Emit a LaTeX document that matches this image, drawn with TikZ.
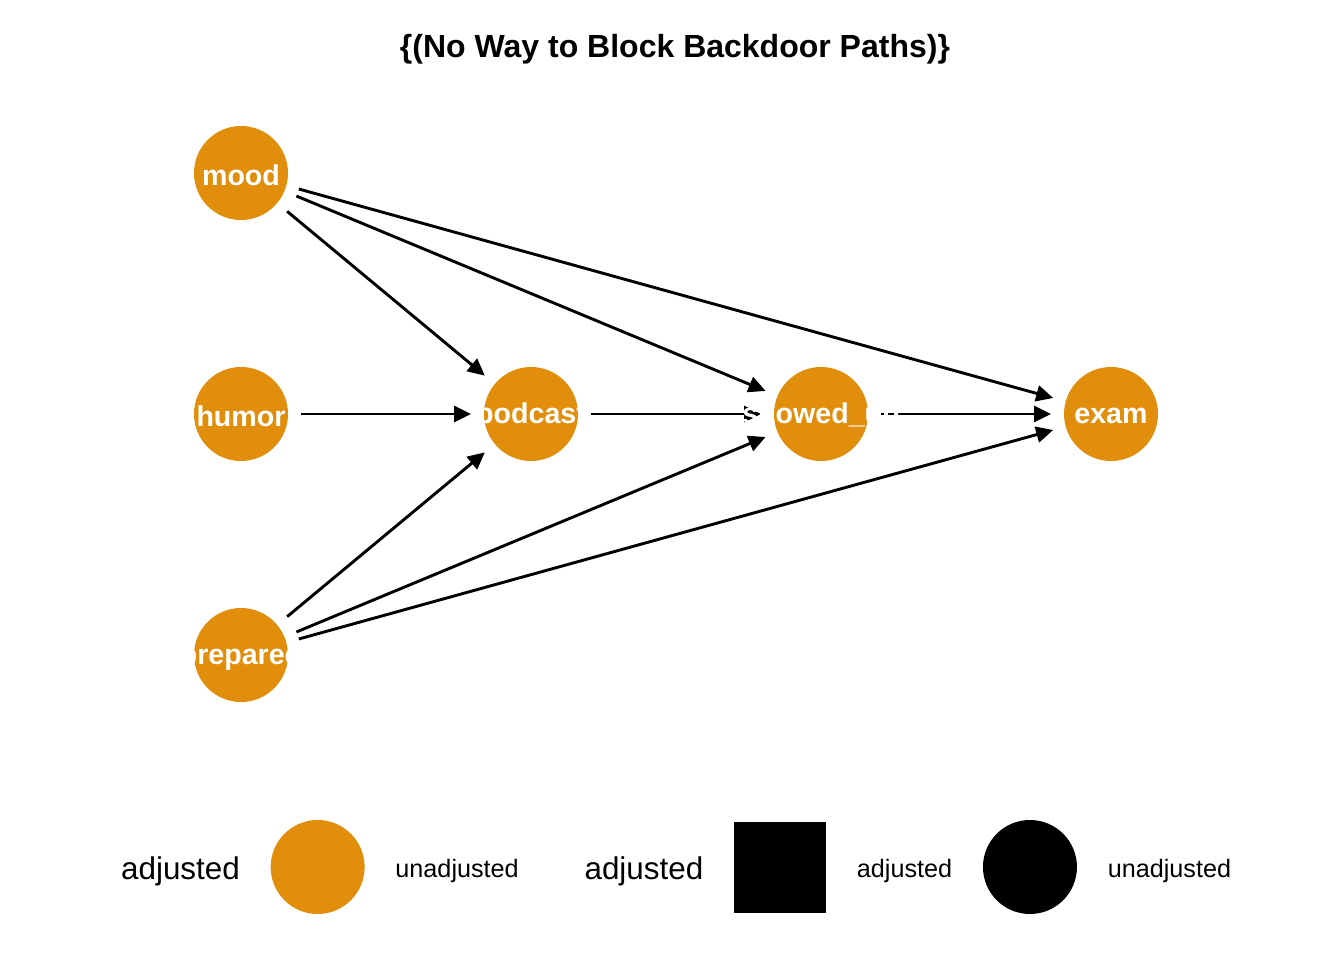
\documentclass[tikz,border=0pt]{standalone}
\usepackage{fontspec}
\setmainfont{Liberation Sans}
\usetikzlibrary{positioning, arrows.meta, backgrounds}
\definecolor{dagorange}{RGB}{224,142,11}

\begin{document}
\begin{tikzpicture}[x=0.5pt, y=0.5pt,
    var/.style={circle, fill=dagorange, minimum size=47pt, inner sep=0pt, outer sep=6.5pt},
    vlab/.style={text=white, inner sep=0pt, yshift=-1pt, font=\fontsize{14.3pt}{17pt}\selectfont\bfseries},
    edge/.style={-{Triangle[length=8.5pt, width=8pt]}, line width=1.45pt},
    legbig/.style={inner sep=0pt, font=\fontsize{15.7pt}{18pt}\selectfont},
    legsmall/.style={inner sep=0pt, font=\fontsize{12.6pt}{15pt}\selectfont},
    legkey/.style={inner sep=0pt, yshift=2pt}]
        \useasboundingbox (0,0) rectangle (1344,960);

        \node [font=\fontsize{16pt}{19pt}\selectfont\bfseries] (Title) at (675,911) {\{(No Way to Block Backdoor Paths)\}};

        \node [var] (Hu) at (241,546) {}; \node [vlab] (HuL) at (Hu) {humor};
        \node [var, on grid, above=120.5pt of Hu] (Mo) {}; \node [vlab] (MoL) at (Mo) {mood};
        \node [var, on grid, below=120.5pt of Hu] (Pr) {}; \node [vlab] (PrL) at (Pr) {prepared};
        \node [var, on grid, right=145pt of Hu] (Pc) {}; \node [vlab] (PcL) at (Pc) {podcast};
        \node [var, on grid, right=145pt of Pc] (Su) {}; \node [vlab] (SuL) at (Su) {showed\_up};
        \node [var, on grid, right=145pt of Su] (Ex) {}; \node [vlab] (ExL) at (Ex) {exam};

        \begin{scope}[on background layer]
        \draw [edge] (Mo) -- (Pc);
        \draw [edge] (Mo) -- (Su);
        \draw [edge] (Mo) -- (Ex);
        \draw [edge] (Hu) -- (Pc);
        \draw [edge] (Pr) -- (Pc);
        \draw [edge] (Pr) -- (Su);
        \draw [edge] (Pr) -- (Ex);
        \draw [edge] (Pc) -- (Su);
        \draw [edge] (Su) -- (Ex);
        \end{scope}

        % legend
        \node [legbig] (L1) at (180.5,89) {adjusted};
        \node [legkey, circle, fill=dagorange, minimum size=47pt, right=15pt of L1] (K1) {};
        \node [legsmall, right=15pt of K1.east |- L1.east] (L2) {unadjusted};
        \node [legbig, right=32.5pt of L2] (L3) {adjusted};
        \node [legkey, rectangle, fill=black, minimum width=46pt, minimum height=45.5pt, right=15pt of L3] (K2) {};
        \node [legsmall, right=15pt of K2.east |- L1.east] (L4) {adjusted};
        \node [legkey, circle, fill=black, minimum size=47pt, right=15pt of L4] (K3) {};
        \node [legsmall, right=15pt of K3.east |- L1.east] (L5) {unadjusted};
\end{tikzpicture}
\end{document}
